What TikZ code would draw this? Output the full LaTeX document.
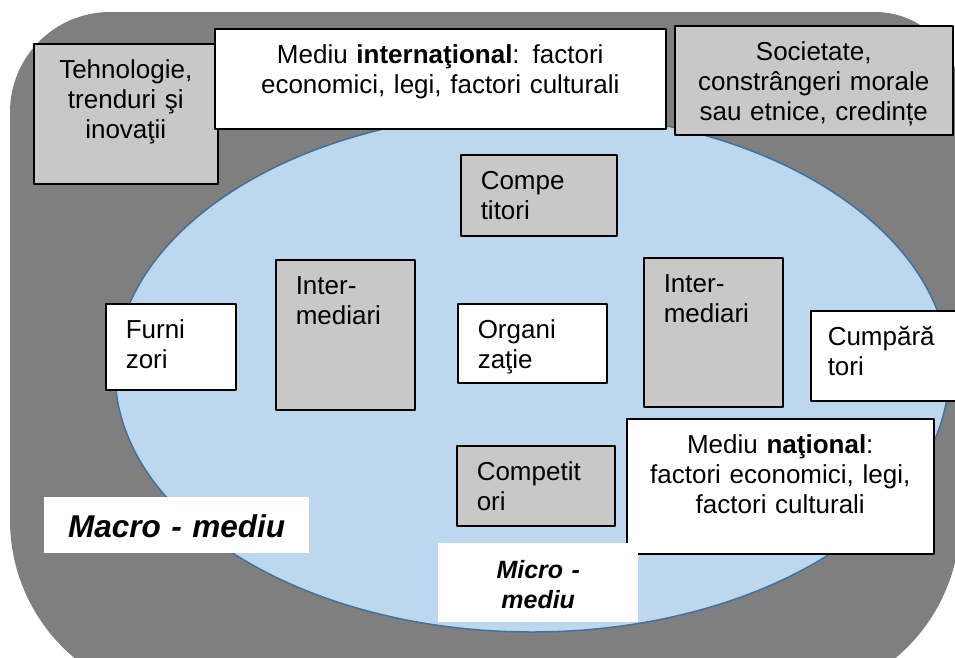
\documentclass[tikz,border=0pt]{standalone}
\usepackage{fontspec}
\setmainfont{Liberation Sans}
\definecolor{macrogrey}{RGB}{127,127,127}
\definecolor{microfill}{RGB}{189,215,238}
\definecolor{microline}{RGB}{65,113,156}
\definecolor{boxgrey}{RGB}{200,200,200}
\tikzset{
  envbox/.style={draw=black, line width=1.5pt, anchor=north west, inner ysep=0pt,
    text height=35pt, font=\fontsize{26}{30}\selectfont},
  leftbox/.style={envbox, inner xsep=20pt, align=left},
  midbox/.style={envbox, inner xsep=5pt, align=center},
  tagbox/.style={fill=white, anchor=north west, inner xsep=0pt, inner ysep=0pt,
    align=center, font=\bfseries\itshape},
}
\begin{document}
\begin{tikzpicture}[x=1pt,y=-1pt,line join=bevel]
  \clip (0,0) rectangle (955,657);
  \fill[white] (0,0) rectangle (955,657);
  % Macro-mediu: grey rounded background
  \fill[macrogrey] (10,112) arc[start angle=180, end angle=270, radius=100]
    -- (875,12) arc[start angle=270, end angle=360, radius=85]
    -- (960,520) arc[start angle=0, end angle=90, radius=180]
    -- (190,700) arc[start angle=90, end angle=180, radius=180] -- cycle;
  % Micro-mediu: blue ellipse
  \draw[microline, fill=microfill, line width=1.5pt] (532,372) ellipse [x radius=417, y radius=260];
%%
  % Node: Tehnologie
  \node[midbox, fill=boxgrey, text width=174pt, text depth=105pt] (tehno) at (33,43)
    {Tehnologie,\\trenduri şi\\inovaţii};
  % Node: Mediu international
  \node[midbox, fill=white, text width=441pt, text depth=65pt] (intl) at (214,28)
    {Mediu \textbf{internaţional}: factori\\economici, legi,  factori culturali};
  % Node: Societate
  \node[midbox, fill=boxgrey, text width=268pt, text depth=74pt] (soc) at (674,25)
    {Societate,\\constrângeri morale\\sau etnice, credințe};
  % Node: Competitori (top)
  \node[leftbox, fill=boxgrey, text width=116pt, text depth=46pt] (compsus) at (460,154)
    {Compe\\titori};
  % Node: Intermediari (left)
  \node[leftbox, fill=boxgrey, text width=99pt, text depth=115pt] (interst) at (275,259)
    {Inter-\\mediari};
  % Node: Furnizori
  \node[leftbox, fill=white, text width=90pt, text depth=51pt] (furn) at (105,303)
    {Furni\\zori};
  % Node: Organizatie
  \node[leftbox, fill=white, text width=109pt, text depth=44pt] (org) at (457,303)
    {Organi\\zaţie};
  % Node: Intermediari (right)
  \node[leftbox, fill=boxgrey, text width=99pt, text depth=114pt] (interdr) at (643,257)
    {Inter-\\mediari};
  % Node: Cumparatori
  \node[leftbox, inner xsep=17pt, fill=white, text width=120pt, text depth=55pt] (cump) at (810,310)
    {Cumpără\\tori};
  % Node: Competitori (bottom)
  \node[leftbox, fill=boxgrey, text width=118pt, text depth=45pt] (compjos) at (456,445)
    {Competit\\ori};
  % Node: Mediu national
  \node[midbox, fill=white, text width=297pt, text depth=100pt] (nat) at (626,418)
    {Mediu \textbf{naţional}:\\factori economici, legi,\\factori culturali};
  % Node: Macro - mediu
  \node[tagbox, text width=265pt, text height=40pt, text depth=16pt,
    font=\fontsize{31.5}{36}\selectfont\bfseries\itshape] (macro) at (44,497)
    {Macro - mediu};
  % Node: Micro - mediu
  \node[tagbox, text width=200pt, text height=35pt, text depth=44pt,
    font=\fontsize{25}{30}\selectfont\bfseries\itshape] (micro) at (438,543)
    {Micro -\\mediu};
%
\end{tikzpicture}
\end{document}
